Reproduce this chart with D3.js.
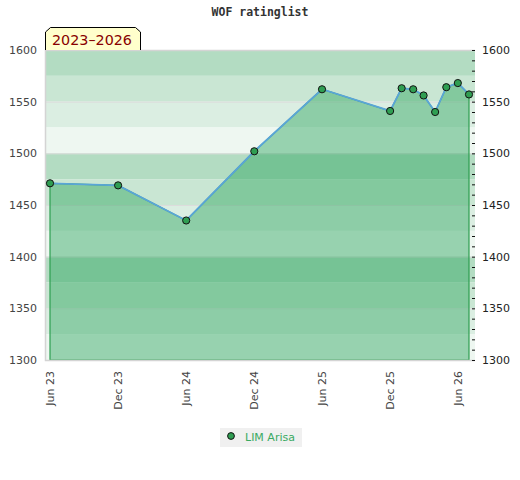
<!DOCTYPE html>
<html>
<head>
<meta charset="utf-8">
<script src="https://cdn.jsdelivr.net/npm/d3@7"></script>
<style>
  body { margin: 0; background: #fff; }
  svg { display: block; font-family: "DejaVu Sans", sans-serif; }
</style>
</head>
<body>
<div id="app"></div>
<script>
// rating list months and ratings
const months = ['2023-06', '2023-12', '2024-06', '2024-12', '2025-06', '2025-12',
  '2026-01', '2026-02', '2026-03', '2026-04', '2026-05', '2026-06', '2026-07']
const ratings = [1471, 1469, 1435, 1502, 1562, 1541, 1563, 1562, 1556, 1540, 1564, 1568, 1557]
const tickMonths = ['2023-06', '2023-12', '2024-06', '2024-12', '2025-06', '2025-12', '2026-06']
const yTicks = [1300, 1350, 1400, 1450, 1500, 1550, 1600]
const playerName = 'LIM Arisa'
const periodLabel = '2023–2026'

const W = 520, H = 480
const pLeft = 45, pRight = 475, pTop = 50, pBottom = 360
const parse = d3.timeParse('%Y-%m')
const data = months.map((m, i) => ({ date: parse(m), value: ratings[i] }))

const x = d3.scaleTime()
  .domain(d3.extent(data, d => d.date))
  .range([50, 469])
const y = d3.scaleLinear().domain([1300, 1600]).range([pBottom, pTop])

const svg = d3.select('#app').append('svg').attr('width', W).attr('height', H)

// background bands, 25 points each, 4 shades repeating every 100
const bandShades = ['#b3dcc2', '#c9e6d3', '#dbeee2', '#eef7f1']
const bands = d3.range(1600, 1300, -25)
svg.append('g').selectAll('rect').data(bands).join('rect')
  .attr('x', pLeft)
  .attr('width', pRight - pLeft)
  .attr('y', d => y(d))
  .attr('height', d => y(d - 25) - y(d))
  .attr('fill', (d, i) => bandShades[i % 4])

// grid lines every 50
svg.append('g').selectAll('line').data(yTicks).join('line')
  .attr('x1', pLeft).attr('x2', pRight)
  .attr('y1', d => y(d) + 0.5).attr('y2', d => y(d) + 0.5)
  .attr('stroke', '#dcdcdc')

// area under the curve
const area = d3.area().x(d => x(d.date)).y0(pBottom).y1(d => y(d.value))
svg.append('path').datum(data)
  .attr('d', area)
  .attr('fill', 'rgb(40,165,90)')
  .attr('fill-opacity', 0.44)
  .attr('stroke', '#2e9e50')
  .attr('stroke-width', 1.2)

// plot frame
svg.append('path')
  .attr('d', `M${pRight},${pTop + 0.5}H${pLeft + 0.5}V${pBottom + 0.5}H${pRight}`)
  .attr('fill', 'none')
  .attr('stroke', '#d4d4d4')
  .attr('stroke-width', 1.5)

// line
const line = d3.line().x(d => x(d.date)).y(d => y(d.value))
svg.append('path').datum(data)
  .attr('d', line)
  .attr('fill', 'none')
  .attr('stroke', '#5aa5d8')
  .attr('stroke-width', 1.8)

// markers
svg.append('g').selectAll('circle').data(data).join('circle')
  .attr('cx', d => x(d.date))
  .attr('cy', d => y(d.value))
  .attr('r', 3.6)
  .attr('fill', '#2f9e52')
  .attr('stroke', '#111')
  .attr('stroke-width', 1)

// left axis labels
svg.append('g').selectAll('text').data(yTicks).join('text')
  .attr('x', 37)
  .attr('y', d => y(d) + 4)
  .attr('text-anchor', 'end')
  .attr('font-size', 11)
  .attr('fill', '#444')
  .text(d => d)

// right axis: minor ticks every 10, labels every 50
const minor = d3.range(1300, 1601, 10)
svg.append('g').selectAll('line').data(minor).join('line')
  .attr('x1', pRight - 3).attr('x2', pRight)
  .attr('y1', d => y(d) + 0.5).attr('y2', d => y(d) + 0.5)
  .attr('stroke', '#111')
svg.append('g').selectAll('text').data(yTicks).join('text')
  .attr('x', 482)
  .attr('y', d => y(d) + 4)
  .attr('font-size', 11)
  .attr('fill', '#222')
  .text(d => d)

// x labels, rotated
const fmt = d3.timeFormat('%b %y')
svg.append('g').selectAll('text').data(tickMonths.map(parse)).join('text')
  .attr('transform', d => `translate(${x(d) + 4},371) rotate(-90)`)
  .attr('text-anchor', 'end')
  .attr('font-size', 11)
  .attr('fill', '#444')
  .text(d => fmt(d))

// title
svg.append('text')
  .attr('x', 260).attr('y', 16)
  .attr('text-anchor', 'middle')
  .attr('font-family', '"DejaVu Sans Mono", monospace')
  .attr('font-weight', 'bold')
  .attr('font-size', 11.5)
  .attr('fill', '#333')
  .text('WOF ratinglist')

// period label box with cut corners
svg.append('path')
  .attr('d', `M${pLeft + 0.5},${pTop}V32L50.5,27.5H135.5L140.5,32V${pTop}`)
  .attr('fill', '#ffffcc')
  .attr('stroke', '#000')
  .attr('stroke-width', 1)
svg.append('text')
  .attr('x', 52).attr('y', 45)
  .attr('font-size', 14.3)
  .attr('fill', '#880000')
  .text(periodLabel)

// legend
const lg = svg.append('g').attr('transform', 'translate(220,428)')
lg.append('rect').attr('width', 82).attr('height', 19).attr('fill', '#f0f0f0')
lg.append('circle').attr('cx', 11).attr('cy', 8).attr('r', 3.4)
  .attr('fill', '#2f9e52').attr('stroke', '#111')
lg.append('text').attr('x', 25).attr('y', 13)
  .attr('font-size', 11).attr('fill', '#3aaa62')
  .text(playerName)
</script>
</body>
</html>
